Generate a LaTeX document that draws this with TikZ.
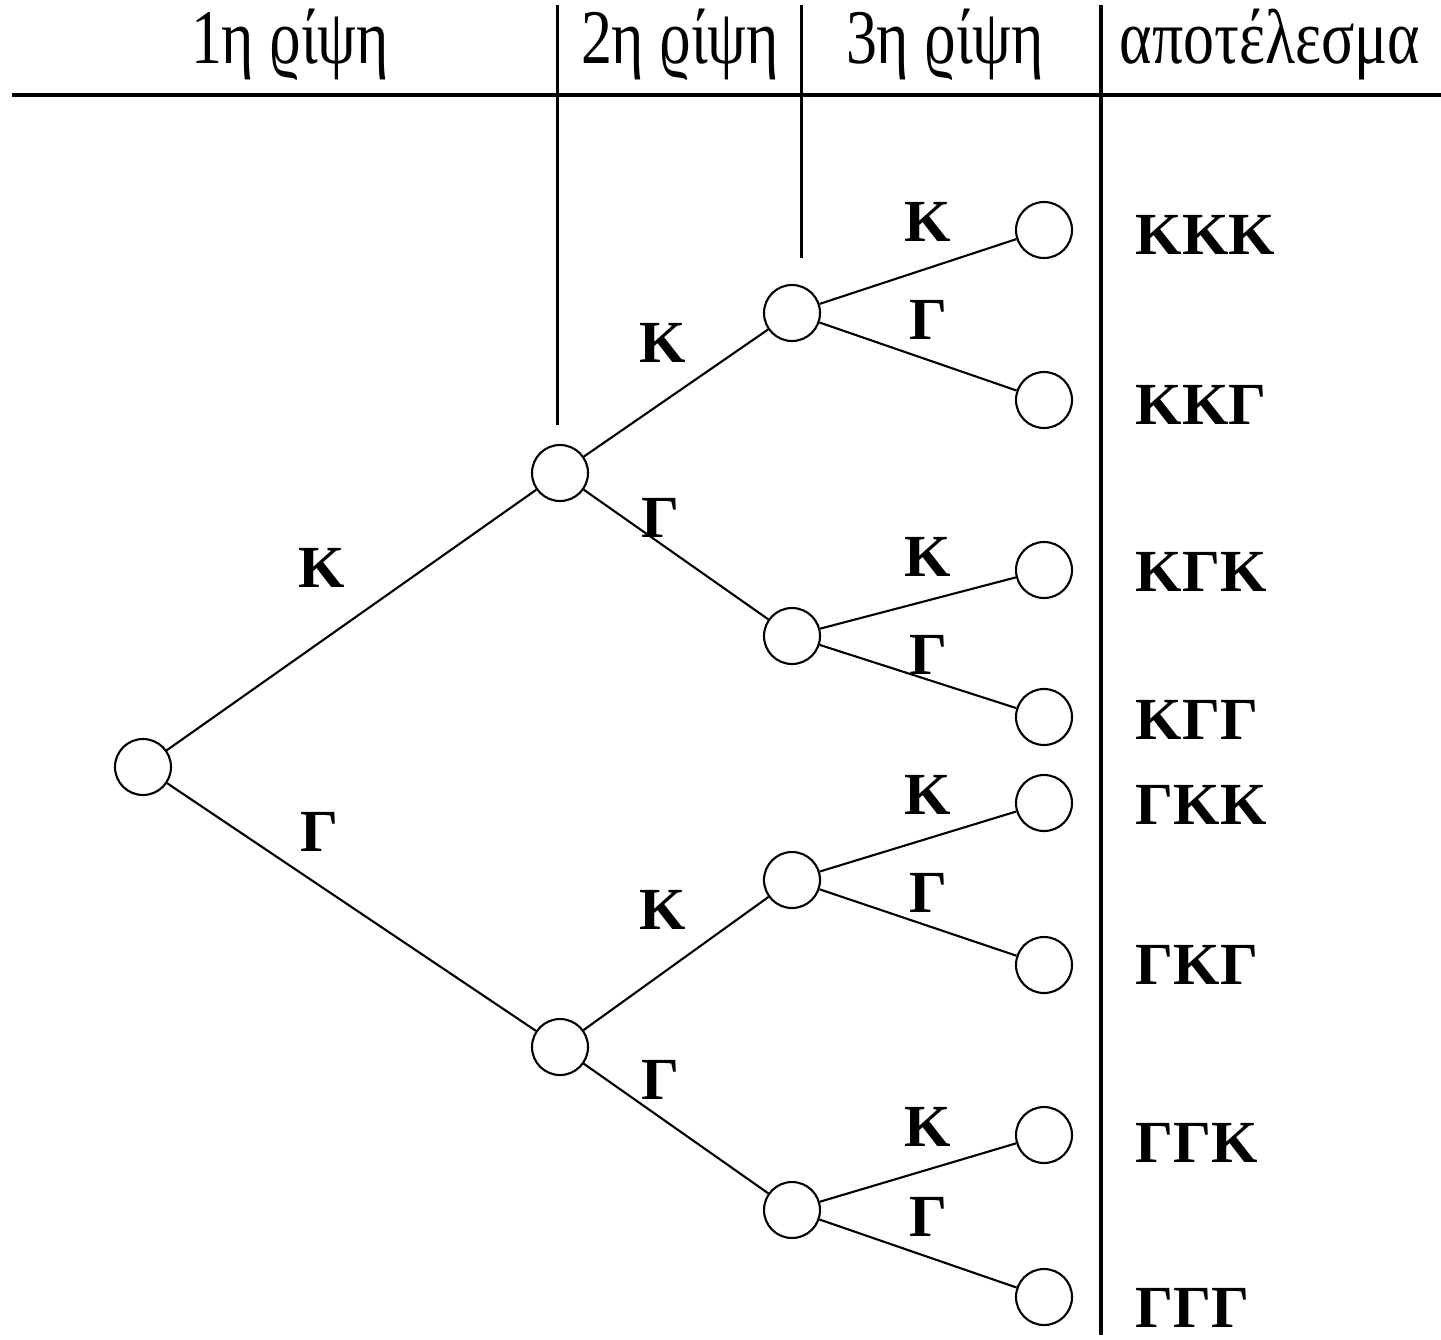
\documentclass[tikz,border=0pt]{standalone}
\usepackage{fontspec}
\setmainfont{Liberation Serif}
\usetikzlibrary{positioning}
\tikzset{
    toss/.style={circle, draw, line width=0.6pt, minimum size=0.56cm, inner sep=0pt},
    branch/.style={line width=0.6pt},
    side/.style={font=\fontsize{17}{17}\selectfont\bfseries, inner sep=0pt},
    result/.style={font=\fontsize{17}{17}\selectfont\bfseries, anchor=west, inner sep=0pt},
    header/.style={font=\fontsize{22}{22}\selectfont, xscale=0.8, inner sep=0pt},
    rule/.style={line width=0.85pt}
}

\begin{document}
\begin{tikzpicture}
    \useasboundingbox (0,0) rectangle (14.41,-13.39);
    % headers
    \node[header] (h1) at (2.90,-0.45) {1η ϱίψη};
    \node[header] (h2) at (6.80,-0.45) {2η ϱίψη};
    \node[header] (h3) at (9.45,-0.45) {3η ϱίψη};
    \node[header] (h4) at (12.70,-0.45) {αποτέλεσμα};
    \draw[line width=1.4pt] (0.12,-0.95) -- (14.41,-0.95);
    \draw[rule] (5.57,-0.05) -- (5.57,-4.25);
    \draw[rule] (8.01,-0.05) -- (8.01,-2.58);
    \draw[line width=1.1pt] (11.01,-0.05) -- (11.01,-13.35);

    % tree
    \node[toss] (root) at (1.43,-7.67) {};
    \node[toss] (aK) at (5.60,-4.73) {};
    \node[toss] (aG) at (5.60,-10.47) {};
    \node[toss] (bKK) at (7.92,-3.13) {};
    \node[toss] (bKG) at (7.92,-6.36) {};
    \node[toss] (bGK) at (7.92,-8.80) {};
    \node[toss] (bGG) at (7.92,-12.10) {};
    \foreach \n/\y in {1/-2.30, 2/-4.00, 3/-5.70, 4/-7.17, 5/-8.03, 6/-9.65, 7/-11.35, 8/-12.97}
        \node[toss] (c\n) at (10.44,\y) {};

    \draw[branch] (root) -- (aK);
    \draw[branch] (root) -- (aG);
    \draw[branch] (aK) -- (bKK);
    \draw[branch] (aK) -- (bKG);
    \draw[branch] (aG) -- (bGK);
    \draw[branch] (aG) -- (bGG);
    \draw[branch] (bKK) -- (c1);
    \draw[branch] (bKK) -- (c2);
    \draw[branch] (bKG) -- (c3);
    \draw[branch] (bKG) -- (c4);
    \draw[branch] (bGK) -- (c5);
    \draw[branch] (bGK) -- (c6);
    \draw[branch] (bGG) -- (c7);
    \draw[branch] (bGG) -- (c8);

    % branch labels
    \node[side] (lK) at (3.22,-5.68) {Κ};
    \node[side] (lG) at (3.20,-8.32) {Γ};
    \node[side] (lKK) at (6.63,-3.43) {Κ};
    \node[side] (lKG) at (6.60,-5.18) {Γ};
    \node[side] (lGK) at (6.63,-9.10) {Κ};
    \node[side] (lGG) at (6.60,-10.80) {Γ};
    \foreach \i/\yk/\yg in {1/-2.22/-3.20, 2/-5.57/-6.55, 3/-7.95/-8.93, 4/-11.27/-12.17} {
        \node[side] (mK\i) at (9.28,\yk) {Κ};
        \node[side] (mG\i) at (9.28,\yg) {Γ};
    }

    % outcomes
    \node[result] (r1) at (11.35,-2.35) {ΚΚΚ};
    \node[result] (r2) at (11.35,-4.05) {ΚΚΓ};
    \node[result] (r3) at (11.35,-5.72) {ΚΓΚ};
    \node[result] (r4) at (11.35,-7.20) {ΚΓΓ};
    \node[result] (r5) at (11.35,-8.05) {ΓΚΚ};
    \node[result] (r6) at (11.35,-9.65) {ΓΚΓ};
    \node[result] (r7) at (11.35,-11.43) {ΓΓΚ};
    \node[result] (r8) at (11.35,-13.08) {ΓΓΓ};
\end{tikzpicture}
\end{document}
